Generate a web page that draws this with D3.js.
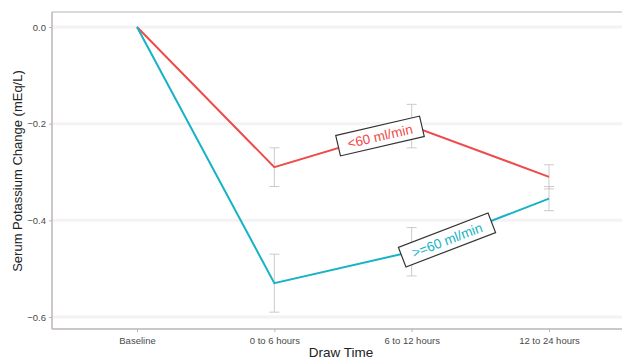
<!DOCTYPE html>
<html><head><meta charset="utf-8">
<script src="https://cdn.jsdelivr.net/npm/d3@7"></script>
<style>body{margin:0;background:#fff}svg{display:block}</style>
</head><body>
<svg id="c" width="622" height="359"></svg>
<script>
const categories = ["Baseline", "0 to 6 hours", "6 to 12 hours", "12 to 24 hours"];
const lowValues = [0, -0.29, -0.205, -0.31];
const lowErr = [0, 0.04, 0.045, 0.025];
const highValues = [0, -0.53, -0.465, -0.355];
const highErr = [0, 0.06, 0.05, 0.025];
const yTicks = [0, -0.2, -0.4, -0.6];
const seriesNames = ["<60 ml/min", ">=60 ml/min"];

const svg = d3.select("#c");
const W = 622, H = 359;
const m = {l: 52, t: 12, r: 0, b: 30};
const x = d3.scalePoint().domain(categories).range([137, 549]);
const y = d3.scaleLinear().domain([-0.6, 0]).range([317, 27]);

// panel borders
svg.append("line").attr("x1", m.l).attr("x2", W).attr("y1", m.t).attr("y2", m.t).attr("stroke", "#d0cccc").attr("stroke-width", 1.5);
// gridlines
svg.append("g").selectAll("line").data(yTicks).join("line")
  .attr("x1", m.l).attr("x2", W).attr("y1", d => y(d)).attr("y2", d => y(d))
  .attr("stroke", "#f4f2f2").attr("stroke-width", 3);

// axes
const yAxis = svg.append("g").attr("transform", `translate(${m.l},0)`)
  .call(d3.axisLeft(y).tickValues(yTicks).tickFormat(d3.format(".1f")).tickSize(3));
yAxis.select(".domain").attr("d", `M0,${m.t}V329`).attr("stroke", "#bdb6b4").attr("stroke-width", 1.5);
yAxis.selectAll(".tick line").attr("stroke", "#bdb6b4");
yAxis.selectAll("text").attr("fill", "#4a4a4a").style("font", "9.5px 'Liberation Sans', Arial, sans-serif");

const xAxis = svg.append("g").attr("transform", `translate(0,329)`)
  .call(d3.axisBottom(x).tickSize(3));
xAxis.select(".domain").attr("d", `M${m.l},0H${W}`).attr("stroke", "#bdb6b4").attr("stroke-width", 1.5);
xAxis.selectAll(".tick line").attr("stroke", "#bdb6b4");
xAxis.selectAll("text").attr("fill", "#4a4a4a").attr("dy", "0.95em").style("font", "9.5px 'Liberation Sans', Arial, sans-serif");

// axis titles
svg.append("text").attr("x", 341).attr("y", 357).attr("text-anchor", "middle")
  .style("font", "13.5px 'Liberation Sans', Arial, sans-serif").attr("fill", "#222").text("Draw Time");
svg.append("text").attr("transform", "translate(22,171) rotate(-90)").attr("text-anchor", "middle")
  .style("font", "13px 'Liberation Sans', Arial, sans-serif").attr("fill", "#222").text("Serum Potassium Change (mEq/L)");

// error bars
function errorBars(vals, errs, col) {
  const g = svg.append("g").attr("stroke", col).attr("stroke-width", 1);
  categories.forEach((c, i) => {
    if (!errs[i]) return;
    const cx = x(c);
    g.append("line").attr("x1", cx).attr("x2", cx).attr("y1", y(vals[i] + errs[i])).attr("y2", y(vals[i] - errs[i]));
    g.append("line").attr("x1", cx - 5).attr("x2", cx + 5).attr("y1", y(vals[i] + errs[i])).attr("y2", y(vals[i] + errs[i]));
    g.append("line").attr("x1", cx - 5).attr("x2", cx + 5).attr("y1", y(vals[i] - errs[i])).attr("y2", y(vals[i] - errs[i]));
  });
}
errorBars(lowValues, lowErr, "#cdc9c9");
errorBars(highValues, highErr, "#cdc9c9");

const line = d3.line().x((d, i) => x(categories[i])).y(d => y(d));
svg.append("path").datum(lowValues).attr("d", line).attr("fill", "none").attr("stroke", "#ef4b4b").attr("stroke-width", 2);
svg.append("path").datum(highValues).attr("d", line).attr("fill", "none").attr("stroke", "#16b3c6").attr("stroke-width", 2);

// labels
function label(text, cx, cy, rot, col, w, h) {
  const g = svg.append("g").attr("transform", `translate(${cx},${cy}) rotate(${rot})`);
  g.append("rect").attr("x", -w/2).attr("y", -h/2).attr("width", w).attr("height", h)
    .attr("fill", "#fff").attr("stroke", "#333").attr("stroke-width", 1.2);
  g.append("text").attr("text-anchor", "middle").attr("dy", "0.36em").attr("fill", col)
    .style("font", "13.5px 'Liberation Sans', Arial, sans-serif").text(text);
}
label(seriesNames[0], 380, 136, -13, "#ef4b4b", 86, 21);
label(seriesNames[1], 447, 240, -21, "#16b3c6", 96, 21);
</script>
</body></html>
